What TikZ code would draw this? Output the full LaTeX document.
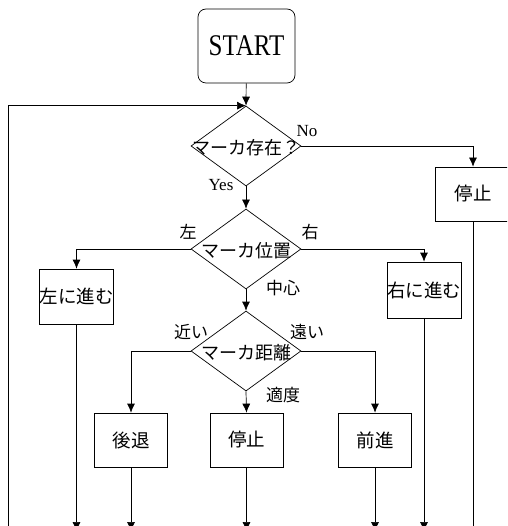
\documentclass[tikz,border=0pt]{standalone}
\usepackage{fontspec}
\setmainfont{Liberation Serif}
\newfontfamily\jp{Noto Sans CJK JP}
\usetikzlibrary{arrows.meta,shapes.geometric}

\begin{document}
\begin{tikzpicture}[x=1pt,y=-1pt,
    box/.style={draw,line width=0.7pt,inner sep=0pt,font={\jp\fontsize{18.5}{21}\selectfont}},
    decision/.style={draw,diamond,line width=0.7pt,inner sep=0pt,minimum width=110pt,minimum height=80pt},
    qtext/.style={inner sep=0pt,yshift=-2pt,font={\jp\fontsize{18}{21}\selectfont}},
    lbl/.style={inner sep=0pt,font={\jp\fontsize{17}{19}\selectfont}},
    yn/.style={inner sep=0pt,font={\fontsize{17}{19}\selectfont}},
    flow/.style={line width=0.7pt,-{Latex[length=9pt,width=8pt]}},
    wire/.style={line width=0.7pt}]
  \useasboundingbox (0,0) rectangle (507,526);
  \clip (0,0) rectangle (507,526);

  % Start
  \node[box,rounded corners=8pt,minimum width=97pt,minimum height=74pt,font={\fontsize{25}{28}\selectfont}] (start) at (246.5,46) {\scalebox{1}[1.2]{START}};

  % Marker exists?
  \node[decision,label={[qtext]center:マーカ存在？}] (exist) at (246,146) {};
  \node[yn] (no) at (307,131) {No};
  \node[yn] (yes) at (221,185) {Yes};
  \node[box,minimum width=76pt,minimum height=54pt] (halt) at (473,194) {停止};

  % Marker position
  \node[decision,label={[qtext]center:マーカ位置}] (pos) at (246,249) {};
  \node[lbl] (lleft) at (188,232) {左};
  \node[lbl] (lright) at (310,232) {右};
  \node[lbl] (lcenter) at (283,288) {中心};
  \node[box,minimum width=73pt,minimum height=55pt] (goleft) at (76.5,296.5) {左に進む};
  \node[box,minimum width=74pt,minimum height=56pt] (goright) at (424,290) {右に進む};

  % Marker distance
  \node[decision,label={[qtext]center:マーカ距離}] (dist) at (246,351) {};
  \node[lbl] (lnear) at (191,332) {近い};
  \node[lbl] (lfar) at (307,332) {遠い};
  \node[lbl] (lok) at (283,395) {適度};
  \node[box,minimum width=73pt,minimum height=54pt] (back) at (131,440) {後退};
  \node[box,minimum width=73pt,minimum height=54pt] (stay) at (246.5,440) {停止};
  \node[box,minimum width=73pt,minimum height=54pt] (fwd) at (375,440) {前進};

  % Ends below the picture
  \coordinate (eloop) at (8,531);
  \coordinate (eleft) at (76.5,531);
  \coordinate (eback) at (131,531);
  \coordinate (estay) at (246.5,531);
  \coordinate (efwd) at (375,531);
  \coordinate (eright) at (424,531);
  \coordinate (ehalt) at (473,531);

  % Connectors
  \draw[flow] (start) -- (exist.north);
  \draw[flow] (eloop) |- (exist.north);
  \draw[flow] (exist.east) -| (halt.north);
  \draw[flow] (exist.south) -- (pos.north);
  \draw[flow] (pos.west) -| (goleft.north);
  \draw[flow] (pos.east) -| (goright.north);
  \draw[flow] (pos.south) -- (dist.north);
  \draw[flow] (dist.west) -| (back.north);
  \draw[flow] (dist.south) -- (stay.north);
  \draw[flow] (dist.east) -| (fwd.north);
  \draw[flow] (goleft.south) -- (eleft);
  \draw[flow] (back.south) -- (eback);
  \draw[flow] (stay.south) -- (estay);
  \draw[flow] (fwd.south) -- (efwd);
  \draw[flow] (goright.south) -- (eright);
  \draw[wire] (halt.south) -- (ehalt);
\end{tikzpicture}
\end{document}
